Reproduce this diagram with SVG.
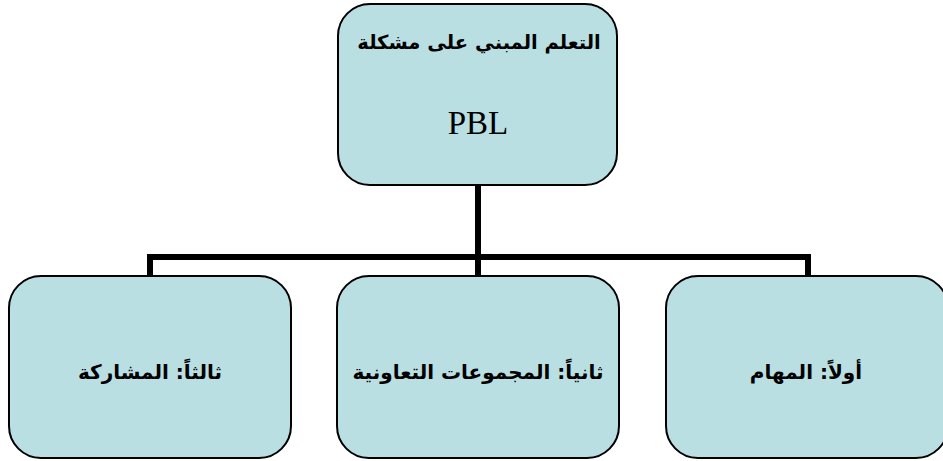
<svg xmlns="http://www.w3.org/2000/svg" width="943" height="461" viewBox="0 0 943 461">
<style>
.box{fill:#b9dfe3;stroke:#000;stroke-width:2}
.ar{font-family:"DejaVu Sans",sans-serif;font-weight:bold;font-size:20px;fill:#000;text-anchor:middle}
.en{font-family:"Liberation Serif",serif;font-size:33px;fill:#000;text-anchor:middle}
.conn{fill:none;stroke:#000;stroke-width:6}
</style>
<rect width="943" height="461" fill="#fff"/>
<g id="connectors">
<path class="conn" d="M478 185 V258"/>
<path class="conn" d="M150 276 V257 H808 V276"/>
<path class="conn" d="M478 258 V276"/>
</g>
<g id="root">
<rect class="box" x="338" y="4" width="279" height="181" rx="32"/>
<text class="ar" x="479" y="49" direction="rtl" style="font-size:19.5px">التعلم المبني على مشكلة</text>
<text class="en" x="478" y="134">PBL</text>
</g>
<g id="node3">
<rect class="box" x="9" y="276" width="282" height="182" rx="32"/>
<text class="ar" x="150" y="379" direction="rtl">ثالثاً: المشاركة</text>
</g>
<g id="node2">
<rect class="box" x="337" y="276" width="282" height="182" rx="32"/>
<text class="ar" x="478" y="379" direction="rtl">ثانياً: المجموعات التعاونية</text>
</g>
<g id="node1">
<rect class="box" x="666" y="276" width="282" height="182" rx="32"/>
<text class="ar" x="806" y="379" direction="rtl">أولاً: المهام</text>
</g>
</svg>
